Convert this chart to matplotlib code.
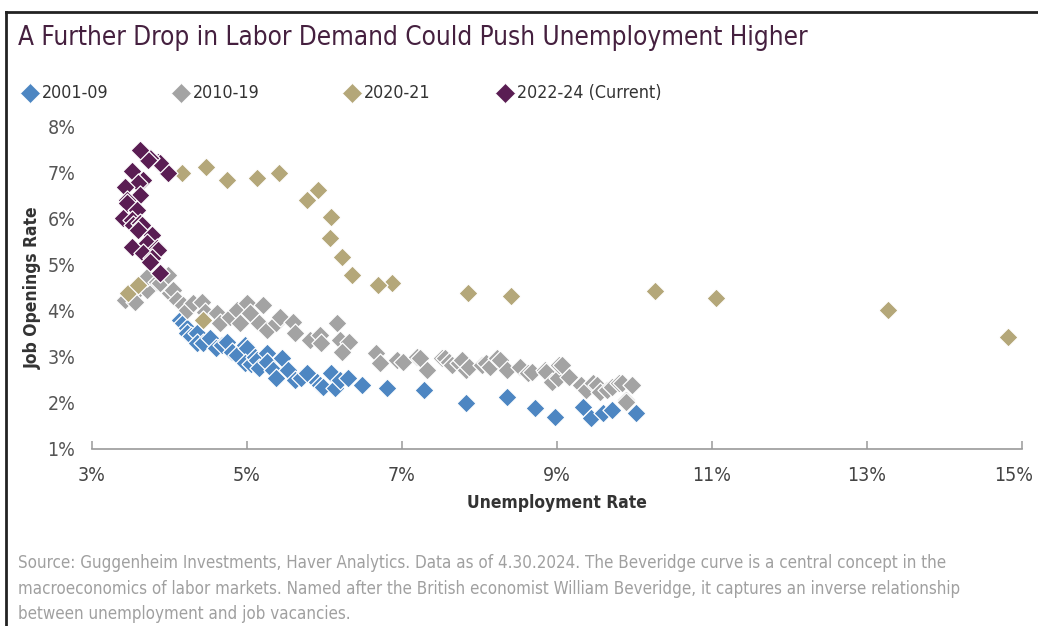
import matplotlib
matplotlib.use("Agg")
import matplotlib.pyplot as plt
from matplotlib import font_manager as fm
from matplotlib.lines import Line2D
import matplotlib.transforms as mtransforms

# ---------------- data ----------------
series_labels = ["2001-09", "2010-19", "2020-21", "2022-24 (Current)"]
series_colors = ["#4d86c2", "#a3a3a3", "#b4a779", "#5a1d53"]

u_2001_09 = [4.13, 4.17, 4.22, 4.22, 4.28, 4.35, 4.35, 4.43, 4.52, 4.60, 4.68, 4.74, 4.80, 4.87,
             4.97, 5.00, 4.97, 5.05, 5.10, 5.13, 5.16, 5.26, 5.26, 5.33, 5.38, 5.45, 5.53, 5.62,
             5.70, 5.77, 5.90, 5.94, 5.98, 6.09, 6.13, 6.20, 6.30, 6.49, 6.81, 7.29, 7.83, 8.35,
             8.71, 8.97, 9.33, 9.44, 9.59, 9.71, 10.02]
v_2001_09 = [3.80, 3.74, 3.63, 3.52, 3.45, 3.52, 3.30, 3.30, 3.41, 3.20, 3.26, 3.33, 3.10, 3.04,
             3.26, 3.20, 2.87, 2.85, 3.00, 2.93, 2.76, 3.09, 2.89, 2.72, 2.54, 2.98, 2.72, 2.50,
             2.55, 2.65, 2.46, 2.39, 2.35, 2.65, 2.33, 2.50, 2.54, 2.39, 2.33, 2.28, 2.00, 2.13,
             1.89, 1.70, 1.91, 1.67, 1.78, 1.85, 1.78]

u_2010_19 = [3.43, 3.53, 3.55, 3.71, 3.71, 3.84, 3.88, 3.98, 4.01, 4.04, 4.10, 4.17, 4.22, 4.30,
             4.42, 4.46, 4.61, 4.65, 4.78, 4.87, 4.91, 5.00, 5.04, 5.16, 5.20, 5.26, 5.38, 5.42,
             5.59, 5.62, 5.81, 5.94, 5.96, 6.16, 6.20, 6.32, 6.23, 6.67, 6.71, 6.94, 7.01, 7.19,
             7.23, 7.32, 7.51, 7.55, 7.61, 7.65, 7.74, 7.77, 7.83, 7.87, 8.03, 8.09, 8.13, 8.22,
             8.26, 8.35, 8.52, 8.62, 8.68, 8.84, 8.86, 8.94, 9.01, 9.03, 9.07, 9.16, 9.31, 9.38,
             9.46, 9.51, 9.55, 9.65, 9.71, 9.80, 9.84, 9.89, 9.89, 9.97]
v_2010_19 = [4.24, 4.35, 4.20, 4.46, 4.74, 4.63, 4.61, 4.78, 4.39, 4.46, 4.24, 4.13, 4.02, 4.17,
             4.20, 3.98, 3.96, 3.74, 3.87, 4.02, 3.74, 4.17, 3.96, 3.74, 4.13, 3.59, 3.74, 3.87,
             3.76, 3.52, 3.37, 3.48, 3.30, 3.74, 3.37, 3.33, 3.11, 3.09, 2.87, 2.93, 2.89, 3.00,
             2.98, 2.72, 2.98, 2.98, 2.89, 2.83, 2.87, 2.93, 2.72, 2.78, 2.83, 2.87, 2.78, 2.98,
             2.93, 2.72, 2.78, 2.65, 2.67, 2.72, 2.67, 2.46, 2.54, 2.83, 2.83, 2.57, 2.39, 2.28,
             2.43, 2.39, 2.24, 2.28, 2.35, 2.43, 2.43, 2.07, 2.02, 2.39]

u_2020_21 = [3.46, 3.59, 4.43, 14.82, 13.27, 11.05, 10.26, 8.41, 7.85, 6.87, 6.69,
             6.36, 6.23, 6.07, 6.09, 5.91, 5.77, 5.41, 5.13, 4.74, 4.47, 4.16]
v_2020_21 = [4.39, 4.57, 3.80, 3.43, 4.02, 4.28, 4.44, 4.33, 4.39, 4.61, 4.57,
             4.78, 5.17, 5.59, 6.04, 6.63, 6.41, 7.00, 6.89, 6.85, 7.13, 7.00]

u_2022_24 = [3.98, 3.85, 3.88, 3.75, 3.72, 3.62, 3.52, 3.66, 3.59, 3.43, 3.62, 3.45, 3.45, 3.58,
             3.40, 3.52, 3.53, 3.62, 3.64, 3.59, 3.77, 3.52, 3.71, 3.84, 3.85, 3.66, 3.77, 3.75,
             3.88]
v_2022_24 = [7.00, 7.24, 7.22, 7.33, 7.28, 7.50, 7.04, 6.85, 6.78, 6.70, 6.52, 6.41, 6.35, 6.20,
             6.02, 5.98, 5.87, 5.91, 5.87, 5.76, 5.65, 5.39, 5.48, 5.37, 5.33, 5.26, 5.15, 5.07,
             4.83]

x_ticks = [3, 5, 7, 9, 11, 13, 15]
y_ticks = [1, 2, 3, 4, 5, 6, 7, 8]

title_text = "A Further Drop in Labor Demand Could Push Unemployment Higher"
x_label = "Unemployment Rate"
y_label = "Job Openings Rate"
source_lines = [
    "Source: Guggenheim Investments, Haver Analytics. Data as of 4.30.2024. The Beveridge curve is a central concept in the",
    "macroeconomics of labor markets. Named after the British economist William Beveridge, it captures an inverse relationship",
    "between unemployment and job vacancies.",
]

# ---------------- fonts ----------------
names = {f.name for f in fm.fontManager.ttflist}
if "Liberation Sans Narrow" in names:
    FONT = {"family": "Liberation Sans Narrow"}
else:
    FONT = {"family": "DejaVu Sans", "stretch": "condensed"}

W, H = 1038, 626
fig = plt.figure(figsize=(W / 100, H / 100), dpi=100)
fig.patch.set_facecolor("white")

def fx(px):
    return px / W

def fy(py):
    return 1 - py / H

ax = fig.add_axes([fx(92), fy(449), fx(1022) - fx(92), fy(127) - fy(449)])
ax.set_xlim(3, 15)
ax.set_ylim(1, 8)

data = [(u_2001_09, v_2001_09), (u_2010_19, v_2010_19), (u_2020_21, v_2020_21), (u_2022_24, v_2022_24)]
for (xs, ys), col, lab in zip(data, series_colors, series_labels):
    ax.scatter(xs, ys, marker="D", s=95, color=col, edgecolors="white", linewidths=0.9,
               label=lab, zorder=3)

for s in ["top", "right", "left"]:
    ax.spines[s].set_visible(False)
ax.spines["bottom"].set_color("#9a9a9a")
ax.spines["bottom"].set_linewidth(1.2)

ax.set_xticks(x_ticks)
ax.set_xticklabels([f"{t}%" for t in x_ticks], **FONT)
ax.set_yticks(y_ticks)
ax.set_yticklabels([f"{t}%" for t in y_ticks], **FONT)
ax.tick_params(axis="x", direction="in", length=6, width=1.1, color="#9a9a9a",
               labelsize=14, labelcolor="#444444", pad=12)
ax.tick_params(axis="y", length=0, labelsize=14, labelcolor="#555555", pad=12)

lbls = ax.get_xticklabels()
lbls[-1].set_transform(lbls[-1].get_transform() +
                       mtransforms.ScaledTranslation(-8 / 100, 0, fig.dpi_scale_trans))

ax.set_xlabel(x_label, fontsize=12.5, fontweight="bold", color="#333333", labelpad=7, **FONT)
ax.set_ylabel(y_label, fontsize=12.5, fontweight="bold", color="#333333", labelpad=4, **FONT)

# title
fig.text(fx(18), fy(38), title_text, fontsize=18.7, color="#45203f", va="center", ha="left", **FONT)

# legend (manual)
leg_marker_x = [30, 181, 352, 505]
leg_y = 93
for mx, col, lab in zip(leg_marker_x, series_colors, series_labels):
    fig.add_artist(Line2D([fx(mx)], [fy(leg_y)], marker="D", markersize=10, color=col,
                          markeredgecolor="white", markeredgewidth=0.5, linestyle="none",
                          transform=fig.transFigure))
    fig.text(fx(mx + 12), fy(leg_y), lab, fontsize=12.8, color="#333333", va="center", ha="left", **FONT)

# source note
for i, line in enumerate(source_lines):
    fig.text(fx(18), fy(563 + 25.5 * i), line, fontsize=12.2, color="#a0a0a0", va="center",
             ha="left", **FONT)

# outer frame (top and left edges visible)
fig.add_artist(Line2D([fx(6), fx(6)], [fy(12), 0], color="#222222", lw=2, transform=fig.transFigure))
fig.add_artist(Line2D([fx(6), 1], [fy(12), fy(12)], color="#222222", lw=2, transform=fig.transFigure))

fig.savefig("out.png", dpi=100, facecolor="white")
